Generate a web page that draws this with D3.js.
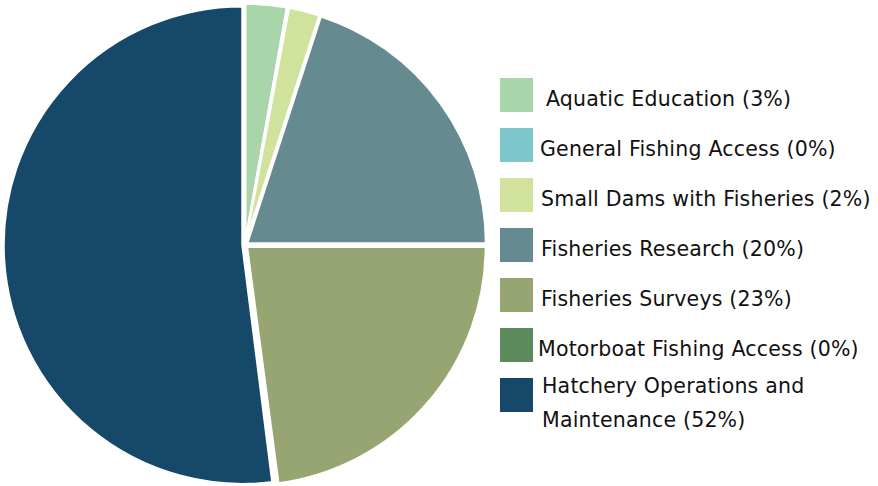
<!DOCTYPE html>
<html>
<head>
<meta charset="utf-8">
<script src="https://cdn.jsdelivr.net/npm/d3@7"></script>
<style>
  body { margin: 0; background: #fff; }
  svg text { font-family: "DejaVu Sans", sans-serif; fill: #111; }
</style>
</head>
<body>
<script>
// categories and shares (percent)
const categories = [
  "Aquatic Education",
  "General Fishing Access",
  "Small Dams with Fisheries",
  "Fisheries Research",
  "Fisheries Surveys",
  "Motorboat Fishing Access",
  "Hatchery Operations and Maintenance"
];
const shares = [2.8, 0.1, 2.1, 20.0, 22.9, 0.1, 52.0];
const labels = ["3%", "0%", "2%", "20%", "23%", "0%", "52%"];
const colorList = ["#a8d5a9", "#7cc6cc", "#d1e29d", "#658a8f", "#97a573", "#5e8b5e", "#154869"];
// the legend text does not line up exactly in the original
const textShift = [5, -1, 0, 0, 0, -3, 1];

const w = 878, h = 486;
const cx = 245, cy = 245, radius = 239;

const svg = d3.select("body").append("svg")
  .attr("width", w)
  .attr("height", h);

const data = categories.map((c, i) => ({ name: c, value: shares[i], label: labels[i], color: colorList[i], dx: textShift[i] }));

const pie = d3.pie().sort(null).value(d => d.value);
const arc = d3.arc().innerRadius(0).outerRadius(radius);

const g = svg.append("g").attr("transform", `translate(${cx},${cy})`);

// slices, pulled out a little
g.selectAll("path")
  .data(pie(data))
  .enter()
  .append("path")
  .attr("d", arc)
  .attr("transform", d => {
    const a = (d.startAngle + d.endAngle) / 2;
    const off = 2.5;
    return `translate(${Math.sin(a) * off},${-Math.cos(a) * off})`;
  })
  .style("fill", d => d.data.color)
  .style("stroke", "#fff")
  .style("stroke-width", 2.5);

// legend
const legend = svg.append("g");
const rowY = d3.scaleBand().domain(categories).range([78, 428]).paddingInner(0);

const rows = legend.selectAll("g")
  .data(data)
  .enter()
  .append("g")
  .attr("transform", d => `translate(500,${rowY(d.name)})`);

rows.append("rect")
  .attr("width", 33)
  .attr("height", 34)
  .style("fill", d => d.color);

rows.each(function(d) {
  const t = d3.select(this).append("text")
    .attr("font-size", 20.5)
    .style("letter-spacing", "0.2px");
  const x = 41 + d.dx;
  if (d.name === "Hatchery Operations and Maintenance") {
    t.append("tspan").attr("x", x).attr("y", 15).text("Hatchery Operations and");
    t.append("tspan").attr("x", x).attr("y", 49).text(`Maintenance (${d.label})`);
  } else {
    t.attr("x", x).attr("y", 28).text(`${d.name} (${d.label})`);
  }
});
</script>
</body>
</html>
